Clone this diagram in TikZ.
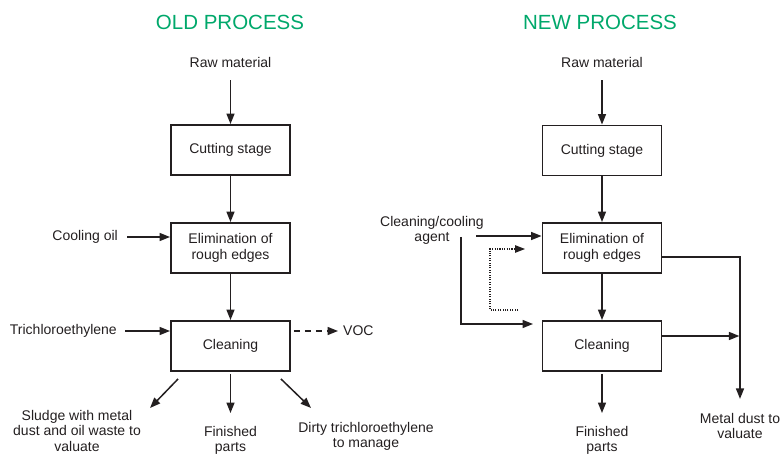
\documentclass[tikz,border=0pt]{standalone}
\usepackage{fontspec}
\setmainfont{Liberation Sans}
\usetikzlibrary{arrows.meta}
\definecolor{ttl}{RGB}{0,168,107}
\definecolor{ink}{RGB}{35,31,32}
\begin{document}
\begin{tikzpicture}[x=1pt,y=-1pt,
  box/.style={draw=ink, line width=1.9pt, minimum width=119pt, minimum height=50pt, inner sep=0pt, align=center, font=\fontsize{14}{15.5}\selectfont, text=ink},
  lbl/.style={text=ink, align=center, font=\fontsize{14}{15.5}\selectfont, inner sep=0pt},
  ttlstyle/.style={text=ttl, font=\fontsize{20.5}{24}\selectfont, inner sep=0pt},
  arr/.style={draw=ink, line width=1.5pt, -{Triangle[length=10.5pt,width=8pt]}},
  ln/.style={draw=ink, line width=1.5pt}]
\useasboundingbox (0,0) rectangle (781,454);

% ---------------- OLD PROCESS ----------------
\node[ttlstyle] (oldtitle) at (230,22) {OLD PROCESS};
\node[lbl] (oldraw) at (230.5,62) {Raw material};
\node[box] (oldcut) at (230.5,150) {Cutting stage};
\node[box] (oldelim) at (230.5,248) {Elimination of\\rough edges};
\node[box] (oldclean) at (230.5,346) {Cleaning};

\draw[arr, shorten <=13pt] (oldraw.south) -- (oldcut.north);
\draw[arr] (oldcut.south) -- (oldelim.north);
\draw[arr] (oldelim.south) -- (oldclean.north);

\node[lbl, anchor=east] (coil) at (118,237) {Cooling oil};
\draw[arr, shorten <=9pt] (coil.east) -- (coil.east -| oldelim.west);

\node[lbl, anchor=east] (tce) at (117,331) {Trichloroethylene};
\draw[arr, shorten <=8pt] (tce.east) -- (tce.east -| oldclean.west);

\node[lbl, anchor=west] (voc) at (343,331) {VOC};
\draw[arr, dash pattern=on 6pt off 5pt, shorten <=3pt, shorten >=5pt] (oldclean.east |- voc.west) -- (voc.west);

\node[lbl] (sludge) at (77,430.5) {Sludge with metal\\dust and oil waste to\\valuate};
\node[lbl] (oldfin) at (230.5,440.5) {Finished\\parts};
\node[lbl] (dirty) at (366,436.5) {Dirty trichloroethylene\\to manage};

\coordinate (sludgetip) at (150,408);
\coordinate (dirtytip) at (311,408);
\draw[arr] ([shift={(8,7)}]oldclean.south west) -- (sludgetip);
\draw[arr] ([shift={(-10,7)}]oldclean.south east) -- (dirtytip);
\draw[arr, shorten <=2pt, shorten >=13pt] (oldclean.south) -- (oldfin.north);

% ---------------- NEW PROCESS ----------------
\node[ttlstyle] (newtitle) at (600,22) {NEW PROCESS};
\node[lbl] (newraw) at (602,62) {Raw material};
\node[box] (newcut) at (602,150.5) {Cutting stage};
\node[box] (newelim) at (602,248) {Elimination of\\rough edges};
\node[box] (newclean) at (602,346) {Cleaning};

\draw[arr, shorten <=13pt] (newraw.south) -- (newcut.north);
\draw[arr] (newcut.south) -- (newelim.north);
\draw[arr] (newelim.south) -- (newclean.north);

\node[lbl] (agent) at (432,230.5) {Cleaning/cooling\\agent};
\coordinate (agentA) at (476,236);
\coordinate (agentB) at (461,237);
\coordinate (cleanin) at (533,324);
\draw[arr] (agentA) -- (agentA -| newelim.west);
\draw[arr] (agentB) |- (cleanin);

\coordinate (dots) at (518,310);
\coordinate (dote) at (525,249);
\draw[arr, line width=1.1pt, dash pattern=on 1.1pt off 1.3pt, -{Triangle[length=10pt,width=7.5pt]}] (dots) -- ++(-28,0) |- (dote);

\node[lbl] (metal) at (740,426) {Metal dust to\\valuate};
\coordinate (mdcorner) at (740,257);
\coordinate (cleanjoin) at (739.4,336);
\draw[arr, shorten >=14pt] (newelim.east |- mdcorner) -- (mdcorner) -- (metal.north);
\draw[arr] (newclean.east |- cleanjoin) -- (cleanjoin);

\node[lbl] (newfin) at (602,440.5) {Finished\\parts};
\draw[arr, shorten <=2pt, shorten >=13pt] (newclean.south) -- (newfin.north);
\end{tikzpicture}
\end{document}
